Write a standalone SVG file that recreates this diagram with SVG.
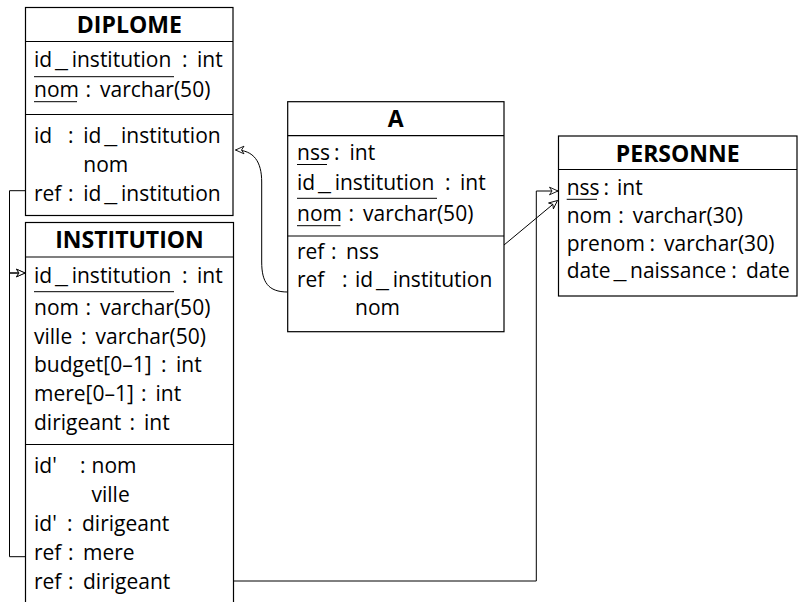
<svg xmlns="http://www.w3.org/2000/svg" width="798" height="602" viewBox="0 0 798 602">
<style>
.box{fill:#fff;stroke:#000;stroke-width:1.2}
.sep{stroke:#000;stroke-width:1.2}
.ul{stroke:#000;stroke-width:1}
.t{font-family:"Open Sans","Liberation Sans",sans-serif;font-size:21px;fill:#000}
.h{font-family:"Open Sans","Liberation Sans",sans-serif;font-size:23px;font-weight:700;fill:#000;text-anchor:middle}
.c{fill:none;stroke:#000;stroke-width:1}
</style>
<defs>
<marker id="arr" viewBox="-10 -5 11 10" refX="0" refY="0" markerWidth="11" markerHeight="10" markerUnits="userSpaceOnUse" orient="auto">
<path d="M0 0 L-8.5 -3.8 L-6 0 L-8.5 3.8 Z" fill="#fff" stroke="#000" stroke-width="0.9"/>
</marker>
</defs>
<rect width="798" height="602" fill="#fff"/>

<g id="connectors">
<path class="c" d="M25.5 190.7 H9.5 V273 H25" marker-end="url(#arr)"/>
<path class="c" d="M25.5 556.7 H9.5 V273 H25" marker-end="url(#arr)"/>
<path class="c" d="M504 245 L557.5 200.5" marker-end="url(#arr)"/>
<path class="c" d="M287.7 292 C268 292 261.7 282 261.7 262 L261.7 182 C261.7 162 254 150 235.5 150" marker-end="url(#arr)"/>
<path class="c" d="M233.5 581 H536.3 V191 H558" marker-end="url(#arr)"/>
</g>

<g id="DIPLOME">
<rect class="box" x="25.5" y="7.5" width="207.5" height="208"/>
<line class="sep" x1="25.5" y1="41.5" x2="233" y2="41.5"/>
<line class="sep" x1="25.5" y1="114.5" x2="233" y2="114.5"/>
<text class="h" x="129.3" y="32.5">DIPLOME</text>
<text class="t" y="66.7"><tspan x="34">id</tspan><tspan x="55" textLength="13" lengthAdjust="spacingAndGlyphs">_</tspan><tspan x="71.7">institution</tspan> <tspan x="182">:</tspan> <tspan x="197">int</tspan></text>
<line class="ul" x1="34" y1="76.7" x2="174" y2="76.7"/>
<text class="t" y="97.3"><tspan x="34">nom</tspan> <tspan x="85.5">:</tspan> <tspan x="100">varchar(50)</tspan></text>
<line class="ul" x1="34" y1="101.7" x2="77" y2="101.7"/>
<text class="t" y="142.7"><tspan x="34">id</tspan> <tspan x="68">:</tspan> <tspan x="83.3">id</tspan><tspan x="104.3" textLength="13" lengthAdjust="spacingAndGlyphs">_</tspan><tspan x="121">institution</tspan></text>
<text class="t" x="83.3" y="171.7">nom</text>
<text class="t" y="200.7"><tspan x="34">ref</tspan> <tspan x="68">:</tspan> <tspan x="83.3">id</tspan><tspan x="104.3" textLength="13" lengthAdjust="spacingAndGlyphs">_</tspan><tspan x="121">institution</tspan></text>
</g>

<g id="INSTITUTION">
<rect class="box" x="25.5" y="222.5" width="208" height="400"/>
<line class="sep" x1="25.5" y1="257" x2="233.5" y2="257"/>
<line class="sep" x1="25.5" y1="444.5" x2="233.5" y2="444.5"/>
<text class="h" x="129.5" y="248">INSTITUTION</text>
<text class="t" y="283.3"><tspan x="34">id</tspan><tspan x="55" textLength="13" lengthAdjust="spacingAndGlyphs">_</tspan><tspan x="71.7">institution</tspan> <tspan x="182">:</tspan> <tspan x="197">int</tspan></text>
<line class="ul" x1="34" y1="291.7" x2="174" y2="291.7"/>
<text class="t" y="315"><tspan x="34">nom</tspan> <tspan x="85.5">:</tspan> <tspan x="100">varchar(50)</tspan></text>
<text class="t" y="343.7"><tspan x="34">ville</tspan> <tspan x="81">:</tspan> <tspan x="95.6">varchar(50)</tspan></text>
<text class="t" y="372.4"><tspan x="34">budget[0–1]</tspan> <tspan x="161">:</tspan> <tspan x="176">int</tspan></text>
<text class="t" y="401.1"><tspan x="34">mere[0–1]</tspan> <tspan x="141">:</tspan> <tspan x="155.5">int</tspan></text>
<text class="t" y="430"><tspan x="34">dirigeant</tspan> <tspan x="129.4">:</tspan> <tspan x="144">int</tspan></text>
<text class="t" y="473"><tspan x="34">id'</tspan> <tspan x="80">:</tspan> <tspan x="91.5">nom</tspan></text>
<text class="t" x="91.5" y="502">ville</text>
<text class="t" y="531"><tspan x="34">id'</tspan> <tspan x="67">:</tspan> <tspan x="82">dirigeant</tspan></text>
<text class="t" y="560"><tspan x="34">ref</tspan> <tspan x="68">:</tspan> <tspan x="83">mere</tspan></text>
<text class="t" y="588.5"><tspan x="34">ref</tspan> <tspan x="68">:</tspan> <tspan x="83">dirigeant</tspan></text>
</g>

<g id="A">
<rect class="box" x="287.7" y="101.7" width="216.3" height="230"/>
<line class="sep" x1="287.7" y1="135.7" x2="504" y2="135.7"/>
<line class="sep" x1="287.7" y1="236" x2="504" y2="236"/>
<text class="h" x="395.8" y="127">A</text>
<text class="t" y="160"><tspan x="297">nss</tspan> <tspan x="334">:</tspan> <tspan x="349.5">int</tspan></text>
<line class="ul" x1="297" y1="164.5" x2="327" y2="164.5"/>
<text class="t" y="190.3"><tspan x="297">id</tspan><tspan x="318" textLength="13" lengthAdjust="spacingAndGlyphs">_</tspan><tspan x="334.7">institution</tspan> <tspan x="445">:</tspan> <tspan x="460">int</tspan></text>
<line class="ul" x1="297" y1="198.3" x2="437" y2="198.3"/>
<text class="t" y="221.3"><tspan x="297">nom</tspan> <tspan x="348.5">:</tspan> <tspan x="363">varchar(50)</tspan></text>
<line class="ul" x1="297" y1="225.7" x2="340.5" y2="225.7"/>
<text class="t" y="259"><tspan x="297">ref</tspan> <tspan x="331">:</tspan> <tspan x="346">nss</tspan></text>
<text class="t" y="286.5"><tspan x="297">ref</tspan> <tspan x="342">:</tspan> <tspan x="355">id</tspan><tspan x="376" textLength="13" lengthAdjust="spacingAndGlyphs">_</tspan><tspan x="392.7">institution</tspan></text>
<text class="t" x="355" y="314.5">nom</text>
</g>

<g id="PERSONNE">
<rect class="box" x="558.5" y="136" width="238.5" height="160"/>
<line class="sep" x1="558.5" y1="169.5" x2="797" y2="169.5"/>
<text class="h" x="677.7" y="161.5">PERSONNE</text>
<text class="t" y="195"><tspan x="566.7">nss</tspan> <tspan x="603.5">:</tspan> <tspan x="617">int</tspan></text>
<line class="ul" x1="566.7" y1="199.3" x2="597" y2="199.3"/>
<text class="t" y="222.7"><tspan x="566.7">nom</tspan> <tspan x="618.2">:</tspan> <tspan x="632.7">varchar(30)</tspan></text>
<text class="t" y="250.7"><tspan x="566.7">prenom</tspan> <tspan x="649.4">:</tspan> <tspan x="664">varchar(30)</tspan></text>
<text class="t" y="278.3"><tspan x="566.7">date</tspan><tspan x="613.5" textLength="13" lengthAdjust="spacingAndGlyphs">_</tspan><tspan x="630">naissance</tspan> <tspan x="731.2">:</tspan> <tspan x="745.9">date</tspan></text>
</g>
</svg>
